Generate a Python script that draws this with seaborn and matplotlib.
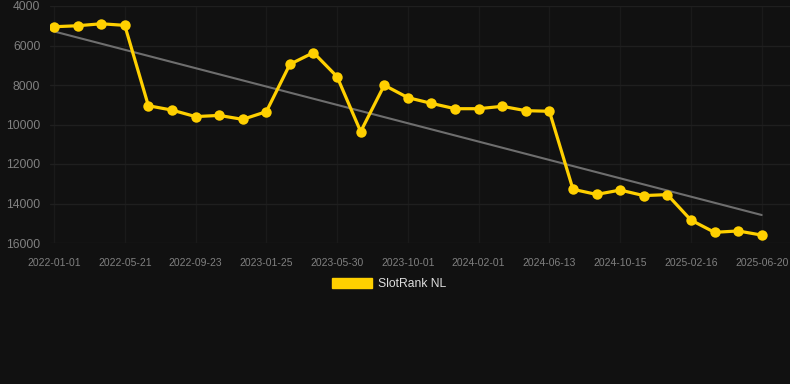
# plot.py - SlotRank NL history on a dark theme
import numpy as np
import pandas as pd
import seaborn as sns
import matplotlib
matplotlib.use("Agg")
import matplotlib.pyplot as plt
from matplotlib.patches import Patch

# --- data ---
dates = [
    "2022-01-01", "2022-02-17", "2022-04-04", "2022-05-21", "2022-07-02",
    "2022-08-13", "2022-09-23", "2022-11-03", "2022-12-15", "2023-01-25",
    "2023-03-07", "2023-04-18", "2023-05-30", "2023-07-11", "2023-08-21",
    "2023-10-01", "2023-11-11", "2023-12-22", "2024-02-01", "2024-03-16",
    "2024-04-29", "2024-06-13", "2024-07-24", "2024-09-03", "2024-10-15",
    "2024-11-25", "2025-01-06", "2025-02-16", "2025-03-30", "2025-05-10",
    "2025-06-20",
]
rank = [
    5050, 5000, 4900, 4980, 9050, 9270, 9600, 9540, 9740, 9350,
    6950, 6360, 7580, 10360, 8010, 8640, 8930, 9200, 9200, 9080,
    9300, 9330, 13280, 13540, 13320, 13600, 13550, 14840, 15460, 15390,
    15600,
]
y_ticks = [4000, 6000, 8000, 10000, 12000, 14000, 16000]
series_name = "SlotRank NL"

BG = "#111111"
HGRID = "#1f1f1f"
VGRID = "#1a1a1a"
YELLOW = "#ffd000"

sns.set_theme(style="dark")
plt.rcParams["font.family"] = ["Liberation Sans", "DejaVu Sans"]

df = pd.DataFrame({"idx": np.arange(len(dates)), "date": dates, "rank": rank})

fig = plt.figure(figsize=(7.9, 3.84), dpi=100, facecolor=BG)
ax = fig.add_axes([50 / 790, 141 / 384, 740 / 790, 237 / 384])
ax.set_facecolor(BG)

# linear trend over the series
coef = np.polyfit(df["idx"], df["rank"], 1)
ax.plot(df["idx"], np.polyval(coef, df["idx"]), color="#6e6e6e", lw=1.5, zorder=2)

sns.lineplot(data=df, x="idx", y="rank", ax=ax, color=YELLOW, lw=2.3,
             marker="o", markersize=7.5, markeredgewidth=0, zorder=3)

ax.set_ylim(16000, 4000)
ax.set_xlim(-0.17, 31.2)
ax.set_yticks(y_ticks)
ax.set_xticks(df["idx"][::3])
ax.set_xticklabels(df["date"][::3])
ax.set_xlabel("")
ax.set_ylabel("")

ax.yaxis.grid(True, color=HGRID, lw=1)
ax.xaxis.grid(True, color=VGRID, lw=1)
for s in ax.spines.values():
    s.set_visible(False)
ax.tick_params(axis="y", colors="#808080", labelsize=8.7, length=0, pad=7)
ax.tick_params(axis="x", colors=VGRID, labelcolor="#808080", labelsize=7.5,
               length=9, width=1, pad=2)

fig.legend(handles=[Patch(facecolor=YELLOW, edgecolor=YELLOW, label=series_name)],
           loc="center", bbox_to_anchor=(389.5 / 790, 1 - 284 / 384), frameon=False,
           fontsize=8.7, labelcolor="#dddddd", handlelength=3.3, handleheight=0.9,
           handletextpad=0.5)

fig.savefig("out.png", dpi=100, facecolor=BG)
